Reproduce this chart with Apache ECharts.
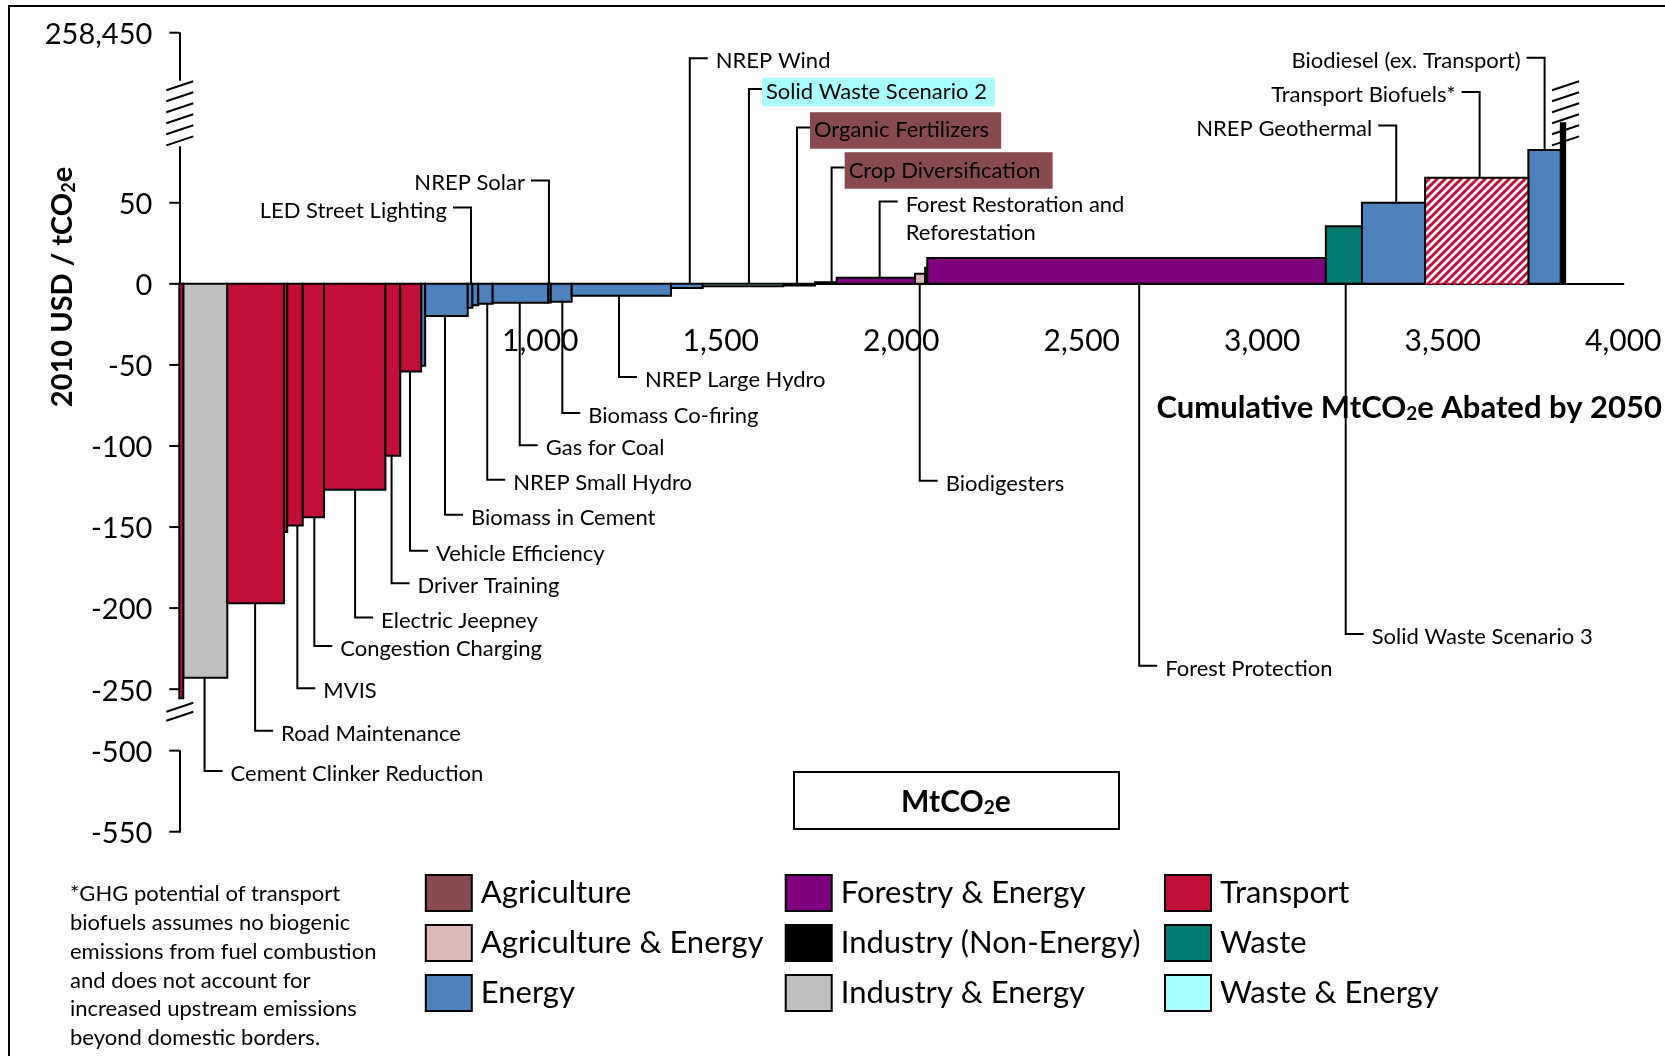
<!DOCTYPE html>
<html>
<head>
<meta charset="utf-8">
<title>Marginal Abatement Cost Curve</title>
<script src="https://cdn.jsdelivr.net/npm/echarts@6/dist/echarts.min.js"></script>
<style>
  html, body { margin: 0; padding: 0; background: #fff; }
  #chart { width: 1665px; height: 1056px; }
</style>
</head>
<body>
<div id="chart"></div>
<script>
// ---- Data: abatement measures in curve order ----
const measures = [
  null, 'Cement Clinker Reduction', 'Road Maintenance', null, 'MVIS',
  'Congestion Charging', 'Electric Jeepney', 'Driver Training', 'Vehicle Efficiency', null,
  'Biomass in Cement', 'LED Street Lighting', null, 'NREP Small Hydro', 'Gas for Coal',
  'NREP Solar', 'Biomass Co-firing', 'NREP Large Hydro', 'NREP Wind', 'Solid Waste Scenario 2',
  'Organic Fertilizers', 'Crop Diversification', 'Forest Restoration and Reforestation', 'Biodigesters', null,
  'Forest Protection', 'Solid Waste Scenario 3', 'NREP Geothermal', 'Transport Biofuels*', 'Biodiesel (ex. Transport)',
  null
];
const sectors = [
  'Transport', 'Industry & Energy', 'Transport', 'Transport', 'Transport',
  'Transport', 'Transport', 'Transport', 'Transport', 'Energy',
  'Energy', 'Energy', 'Energy', 'Energy', 'Energy',
  'Energy', 'Energy', 'Energy', 'Energy', 'Waste & Energy',
  'Agriculture', 'Agriculture', 'Forestry & Energy', 'Agriculture & Energy', 'Energy',
  'Forestry & Energy', 'Waste', 'Energy', 'Transport', 'Energy',
  'Industry (Non-Energy)'
];
// MtCO2e abated by 2050 (bar widths)
const abatement = [
  11, 122, 157, 9, 43,
  59, 170, 41, 58, 11,
  118, 13, 16, 40, 154,
  7, 58, 275, 88, 223,
  88, 60, 217, 28, 6,
  1104, 100, 175, 286, 90,
  12
];
// 2010 USD / tCO2e (bar heights)
const cost = [
  -287, -243, -197, -153, -149,
  -144, -127, -106, -54, -50.5,
  -19.8, -14.8, -13.2, -12.2, -11.7,
  -11.5, -11.1, -7.3, -2.6, -1.5,
  -1.0, 1.0, 3.7, 6.2, 9.9,
  16, 35.6, 50, 65.4, 82.5,
  258450
];

const sectorNames = [
  'Agriculture', 'Agriculture & Energy', 'Energy',
  'Forestry & Energy', 'Industry (Non-Energy)', 'Industry & Energy',
  'Transport', 'Waste', 'Waste & Energy'
];
const yTickLabels = [258450, 50, 0, -50, -100, -150, -200, -250, -500, -550];
const xTickLabels = [1000, 1500, 2000, 2500, 3000, 3500, 4000];

// ---- Styling ----
const FONT = 'Lato, "Noto Sans", sans-serif';
const sectorColors = {
  'Agriculture': '#874A4F',
  'Agriculture & Energy': '#DCB9BB',
  'Energy': '#4F81BD',
  'Forestry & Energy': '#7F007F',
  'Industry (Non-Energy)': '#000000',
  'Industry & Energy': '#C0C0C0',
  'Transport': '#C10F3A',
  'Waste': '#007A6E',
  'Waste & Energy': '#A9FFFB'
};
const hatchedMeasures = ['Transport Biofuels*'];
const labelBackgrounds = {
  'Solid Waste Scenario 2': { color: sectorColors['Waste & Energy'], padding: [0, 8, 0, 4] },
  'Organic Fertilizers': { color: sectorColors['Agriculture'], padding: [4, 12, 4, 4] },
  'Crop Diversification': { color: sectorColors['Agriculture'], padding: [4, 12, 4, 4] }
};
// axis breaks of the cost axis
const LOWER_BREAK = { start: -500, end: -250, gap: 37.9 };
const UPPER_BREAK = { start: 84.5, end: 258421, gap: 41.4 };
const TEXT_NUDGE = 2; // Lato sits a little high in its line box

// Callout layout: text, anchor (MtCO2e), leader level on the main cost scale, direction
const callouts = [
  ['Cement Clinker Reduction', 70, -300.4, 'right'],
  ['Road Maintenance', 210, -275.7, 'right'],
  ['MVIS', 327, -249.5, 'right'],
  ['Congestion Charging', 374, -223.3, 'right'],
  ['Electric Jeepney', 487, -205.8, 'right'],
  ['Driver Training', 588, -184.6, 'right'],
  ['Vehicle Efficiency', 639, -164.6, 'right'],
  ['Biomass in Cement', 736, -142.4, 'right'],
  ['NREP Small Hydro', 853, -120.8, 'right'],
  ['Gas for Coal', 943, -99.6, 'right'],
  ['Biomass Co-firing', 1061, -79.6, 'right'],
  ['NREP Large Hydro', 1218, -57.4, 'right'],
  ['Biodigesters', 2051, -121.4, 'right'],
  ['Forest Protection', 2659, -235.6, 'right'],
  ['Solid Waste Scenario 3', 3231, -215.9, 'right'],
  ['NREP Wind', 1414, 139.1, 'right'],
  ['Solid Waste Scenario 2', 1578, 120.2, 'right'],
  ['Organic Fertilizers', 1711, 96.5, 'right'],
  ['Crop Diversification', 1807, 71.8, 'right'],
  ['Forest Restoration and\nReforestation', 1940, 50.8, 'right'],
  ['LED Street Lighting', 808, 47.1, 'left'],
  ['NREP Solar', 1024, 63.8, 'left'],
  ['NREP Geothermal', 3371, 97.7, 'left'],
  ['Transport Biofuels*', 3602, 118.4, 'left'],
  ['Biodiesel (ex. Transport)', 3782, 139.4, 'left']
];

// ---- Build the step table (cumulative x ranges) ----
const table = [];
let cum = 0;
measures.forEach((m, i) => {
  const x0 = cum;
  cum += abatement[i];
  table.push({ name: m, sector: sectors[i], x0: x0, x1: cum, cost: cost[i], idx: i });
});
function barAt(x) {
  return table.find(r => x >= r.x0 && x <= r.x1);
}

function stripePattern(color) {
  const c = document.createElement('canvas');
  c.width = 8; c.height = 8;
  const g = c.getContext('2d');
  g.fillStyle = '#fff';
  g.fillRect(0, 0, 8, 8);
  g.strokeStyle = color;
  g.lineWidth = 3;
  g.beginPath();
  g.moveTo(-2, 10); g.lineTo(10, -2);
  g.moveTo(-6, 6); g.lineTo(6, -6);
  g.moveTo(2, 14); g.lineTo(14, 2);
  g.stroke();
  return c;
}
const hatchCanvas = stripePattern(sectorColors['Transport']);

function renderBar(params, api) {
  const row = table[api.value(3)];
  const p0 = api.coord([row.x0, 0]);
  const p1 = api.coord([row.x1, row.cost]);
  let top = p1[1];
  if (row.cost > UPPER_BREAK.start) {
    // bars running past the break stop inside it
    const a = api.coord([row.x1, UPPER_BREAK.start])[1];
    const b = api.coord([row.x1, UPPER_BREAK.end])[1];
    top = a + (b - a) * 0.35;
  }
  const x = p0[0], w = p1[0] - p0[0];
  const y = Math.min(p0[1], top), h = Math.abs(top - p0[1]);
  const color = sectorColors[row.sector];
  if (hatchedMeasures.includes(row.name)) {
    return {
      type: 'group',
      children: [
        { type: 'rect', shape: { x: x, y: y, width: w, height: h },
          style: { fill: { image: hatchCanvas, repeat: 'repeat' }, stroke: null } },
        { type: 'polyline', shape: { points: [[x, y + h], [x, y], [x + w, y], [x + w, y + h]] },
          style: { stroke: '#000', lineWidth: 2, fill: null } },
        { type: 'line', shape: { x1: x, y1: y + h, x2: x + w, y2: y + h },
          style: { stroke: color, lineWidth: 2, lineDash: [4, 3] } }
      ]
    };
  }
  return {
    type: 'rect',
    shape: { x: x, y: y, width: w, height: h },
    style: { fill: color, stroke: '#000', lineWidth: 2 }
  };
}

function renderCallout(params, api) {
  const [text, ax, level, dir] = callouts[params.dataIndex];
  const row = barAt(ax);
  const z0 = api.coord([ax, 0]);
  const z50 = api.coord([ax, 50]);
  const perUnit = (z50[1] - z0[1]) / 50;
  const ly = z0[1] + level * perUnit;
  const edge = level < 0 ? Math.min(row.cost, 0) : Math.max(row.cost, 0);
  const sy = api.coord([ax, edge])[1];
  const vx = z0[0];
  const bg = labelBackgrounds[text];
  const arm = bg ? 13 : 18;
  const hx = dir === 'right' ? vx + arm : vx - arm;
  const multi = text.indexOf('\n') >= 0;
  const lineH = 28.5;
  const style = {
    text: text,
    fill: '#000',
    fontSize: 22,
    fontFamily: FONT,
    textAlign: dir === 'right' ? 'left' : 'right',
    textVerticalAlign: multi ? 'top' : 'middle',
    lineHeight: lineH
  };
  let tx = dir === 'right' ? vx + 26 : vx - 24;
  if (bg) {
    style.backgroundColor = bg.color;
    style.padding = bg.padding;
    tx = hx;
  }
  const ty = (multi ? ly - lineH / 2 : ly) + 3;
  return {
    type: 'group',
    children: [
      { type: 'polyline', shape: { points: [[vx, sy], [vx, ly], [hx, ly]] },
        style: { stroke: '#000', lineWidth: 2, fill: null } },
      { type: 'text', x: tx, y: ty, style: style }
    ]
  };
}

const barSeries = sectorNames.map(s => ({
  name: s,
  type: 'custom',
  renderItem: renderBar,
  clip: false,
  itemStyle: { color: sectorColors[s] },
  encode: { x: [0, 1], y: 2 },
  data: table.filter(r => r.sector === s).map(r => [r.x0, r.x1, r.cost, r.idx]),
  z: 2
}));

const calloutSeries = {
  name: 'callouts',
  type: 'custom',
  renderItem: renderCallout,
  clip: false,
  encode: { x: 0, y: 1 },
  data: callouts.map(c => [c[1], c[2]]),
  z: 3
};

function legendCol(left, names) {
  return {
    orient: 'vertical',
    left: left,
    top: 874,
    padding: 0,
    data: names,
    icon: 'rect',
    itemWidth: 46,
    itemHeight: 36,
    itemGap: 12,
    itemStyle: { borderColor: '#000', borderWidth: 2 },
    textStyle: { fontSize: 31, fontFamily: FONT, color: '#000', lineHeight: 29, padding: [7, 0, 0, 4] },
    selectedMode: false
  };
}

const chart = echarts.init(document.getElementById('chart'), null, { renderer: 'canvas' });

chart.setOption({
  animation: false,
  backgroundColor: '#fff',
  textStyle: { fontFamily: FONT },
  grid: { left: 179.3, right: 41.7, top: 32.7, bottom: 224.3, containLabel: false, outerBoundsMode: 'none' },
  xAxis: {
    type: 'value',
    min: 0, max: 4000, interval: 500,
    axisLine: { onZero: true, lineStyle: { color: '#000', width: 2 } },
    axisTick: { show: false },
    splitLine: { show: false },
    axisLabel: { show: false }
  },
  yAxis: {
    type: 'value',
    min: -550, max: 258450, interval: 50,
    breaks: [LOWER_BREAK, UPPER_BREAK],
    breakArea: { show: false },
    axisLine: { show: true, lineStyle: { color: '#000', width: 2 } },
    axisTick: { show: false },
    splitLine: { show: false },
    axisLabel: { show: false }
  },
  legend: [
    legendCol(424.8, sectorNames.slice(0, 3)),
    legendCol(784.7, sectorNames.slice(3, 6)),
    legendCol(1164, sectorNames.slice(6, 9))
  ],
  series: barSeries.concat([calloutSeries])
});

// ---- Tick labels, frame, titles, note and axis-break marks ----
const yPix = v => chart.convertToPixel({ yAxisIndex: 0 }, v);
const xPix = v => chart.convertToPixel({ xAxisIndex: 0 }, v);
const fmt = v => v.toLocaleString('en-US');

function hatchLines(cx, yTop, yBot, count, prefix) {
  const out = [];
  const step = count > 1 ? (yBot - yTop) / (count - 1) : 0;
  for (let i = 0; i < count; i++) {
    const yc = yTop + i * step;
    out.push({
      type: 'line', id: prefix + i, z: 10,
      shape: { x1: cx - 13, y1: yc + 4.5, x2: cx + 14, y2: yc - 4.5 },
      style: { stroke: '#000', lineWidth: 2 }
    });
  }
  return out;
}

const axisX = xPix(0);
const zeroY = yPix(0);
const upTop = yPix(UPPER_BREAK.end), upBot = yPix(UPPER_BREAK.start);
const lowTop = yPix(LOWER_BREAK.end);
const lastBar = table[table.length - 1];
const lastX = xPix((lastBar.x0 + lastBar.x1) / 2);

const yTicks = [];
yTickLabels.forEach((v, i) => {
  const py = yPix(v);
  yTicks.push({ type: 'line', id: 'ytick' + i, z: 5,
    shape: { x1: axisX - 10, y1: py, x2: axisX, y2: py },
    style: { stroke: '#000', lineWidth: 2 } });
  yTicks.push({ type: 'text', id: 'ylab' + i, z: 5, x: axisX - 27, y: py + TEXT_NUDGE,
    style: { text: fmt(v), fill: '#000', fontSize: 29, fontFamily: FONT,
      textAlign: 'right', textVerticalAlign: 'middle' } });
});
const xTicks = xTickLabels.map((v, i) => ({
  type: 'text', id: 'xlab' + i, z: 1, x: xPix(v), y: zeroY + 55 + TEXT_NUDGE,
  style: { text: fmt(v), fill: '#000', fontSize: 30, fontFamily: FONT,
    textAlign: 'center', textVerticalAlign: 'middle' }
}));

const graphics = [
  { type: 'rect', id: 'frame', z: 0, silent: true,
    shape: { x: 9, y: 6, width: 1700, height: 1100 },
    style: { fill: null, stroke: '#000', lineWidth: 2 } },
  { type: 'text', id: 'ytitle', x: 63, y: 287, rotation: Math.PI / 2,
    style: {
      text: '2010 USD / tCO{s|2}e', fill: '#000', fontSize: 29, fontWeight: 'bold', fontFamily: FONT,
      textAlign: 'center', textVerticalAlign: 'middle',
      rich: { s: { fontSize: 18, fontWeight: 'bold', fontFamily: FONT, padding: [12, 0, 0, 0] } }
    } },
  { type: 'text', id: 'xtitle', x: 1662, y: 406 + TEXT_NUDGE,
    style: {
      text: 'Cumulative MtCO{s|2}e Abated by 2050', fill: '#000', fontSize: 31, fontWeight: 'bold', fontFamily: FONT,
      textAlign: 'right', textVerticalAlign: 'middle',
      rich: { s: { fontSize: 19, fontWeight: 'bold', fontFamily: FONT, padding: [12, 0, 0, 0] } }
    } },
  { type: 'rect', id: 'unitbox', shape: { x: 794, y: 772, width: 325, height: 57 },
    style: { fill: '#fff', stroke: '#000', lineWidth: 2 } },
  { type: 'text', id: 'unittext', x: 956, y: 800 + TEXT_NUDGE,
    style: {
      text: 'MtCO{s|2}e', fill: '#000', fontSize: 30, fontWeight: 'bold', fontFamily: FONT,
      textAlign: 'center', textVerticalAlign: 'middle',
      rich: { s: { fontSize: 19, fontWeight: 'bold', fontFamily: FONT, padding: [12, 0, 0, 0] } }
    } },
  { type: 'text', id: 'note', x: 70, y: 880,
    style: {
      text: '*GHG potential of transport\nbiofuels assumes no biogenic\nemissions from fuel combustion\nand does not account for\nincreased upstream emissions\nbeyond domestic borders.',
      fill: '#000', fontSize: 22, fontFamily: FONT, lineHeight: 28.7,
      textAlign: 'left', textVerticalAlign: 'top'
    } }
]
  .concat(yTicks)
  .concat(xTicks)
  .concat(hatchLines(axisX, upTop + 6, upBot - 6, 6, 'ubrk'))
  .concat(hatchLines(lastX + 2, upTop + 6, upBot - 6, 6, 'rbrk'))
  .concat(hatchLines(axisX, lowTop + 18, lowTop + 27, 2, 'lbrk'));

chart.setOption({ graphic: graphics });
</script>
</body>
</html>
